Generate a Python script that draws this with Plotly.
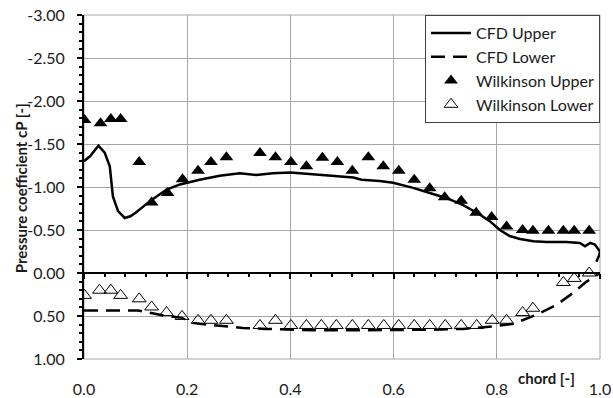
import plotly.graph_objects as go

# CFD pressure distribution, upper surface (x/c, cP)
cfd_upper_x = [0.0, 0.012, 0.028, 0.040, 0.050, 0.056, 0.066, 0.079, 0.090, 0.100, 0.131, 0.160,
               0.186, 0.224, 0.263, 0.302, 0.334, 0.366, 0.400, 0.431, 0.463, 0.496, 0.522,
               0.538, 0.573, 0.599, 0.638, 0.670, 0.703, 0.735, 0.767, 0.787, 0.806, 0.825,
               0.845, 0.871, 0.897, 0.935, 0.961, 0.971, 0.981, 0.990, 1.000, 0.998, 0.993]
cfd_upper_cp = [-1.30, -1.36, -1.48, -1.40, -1.24, -0.89, -0.72, -0.64, -0.66, -0.70, -0.85, -0.97,
                -1.03, -1.085, -1.13, -1.16, -1.14, -1.16, -1.17, -1.155, -1.14, -1.12, -1.11,
                -1.085, -1.07, -1.05, -0.99, -0.93, -0.87, -0.79, -0.68, -0.60, -0.50, -0.43,
                -0.395, -0.37, -0.36, -0.36, -0.35, -0.31, -0.35, -0.33, -0.25, -0.20, -0.13]

# CFD pressure distribution, lower surface
cfd_lower_x = [0.0, 0.105, 0.130, 0.160, 0.189, 0.211, 0.224, 0.276, 0.308, 0.354, 0.399, 0.444,
               0.483, 0.528, 0.573, 0.670, 0.735, 0.793, 0.832, 0.877, 0.916, 0.948, 0.974,
               0.994, 1.000]
cfd_lower_cp = [0.435, 0.435, 0.465, 0.50, 0.52, 0.58, 0.59, 0.62, 0.64, 0.65, 0.66, 0.667,
                0.667, 0.667, 0.667, 0.66, 0.65, 0.62, 0.59, 0.485, 0.37, 0.23, 0.10,
                0.02, 0.0]

# Wilkinson measurements
wilk_upper_x = [0.001, 0.032, 0.052, 0.071, 0.107, 0.131, 0.162, 0.191, 0.221, 0.246, 0.276,
                0.341, 0.371, 0.401, 0.431, 0.462, 0.491, 0.520, 0.551, 0.580, 0.610, 0.640,
                0.670, 0.699, 0.731, 0.760, 0.790, 0.819, 0.850, 0.870, 0.900, 0.929, 0.950,
                0.979]
wilk_upper_cp = [-1.78, -1.74, -1.79, -1.79, -1.29, -0.82, -0.93, -1.09, -1.19, -1.29, -1.345,
                 -1.395, -1.345, -1.29, -1.24, -1.34, -1.29, -1.19, -1.345, -1.24, -1.19, -1.085,
                 -0.985, -0.88, -0.84, -0.70, -0.65, -0.54, -0.50, -0.49, -0.49, -0.49, -0.49,
                 -0.49]

wilk_lower_x = [0.001, 0.030, 0.052, 0.071, 0.107, 0.131, 0.160, 0.190, 0.221, 0.246, 0.276,
                0.341, 0.371, 0.401, 0.431, 0.460, 0.489, 0.520, 0.551, 0.581, 0.610, 0.640,
                0.670, 0.700, 0.731, 0.761, 0.791, 0.819, 0.850, 0.870, 0.929, 0.950, 0.979]
wilk_lower_cp = [0.26, 0.20, 0.20, 0.26, 0.30, 0.395, 0.46, 0.505, 0.55, 0.55, 0.55,
                 0.61, 0.55, 0.61, 0.61, 0.61, 0.61, 0.61, 0.61, 0.61, 0.61, 0.61,
                 0.61, 0.61, 0.61, 0.61, 0.55, 0.55, 0.46, 0.41, 0.11, 0.063, 0.0]

y_tickvals = [-3.0, -2.5, -2.0, -1.5, -1.0, -0.5, 0.0, 0.5, 1.0]
y_ticktext = ["-3.00", "-2.50", "-2.00", "-1.50", "-1.00", "-0.50", "0.00", "0.50", "1.00"]
x_tickvals = [0.0, 0.2, 0.4, 0.6, 0.8, 1.0]
x_ticktext = ["0.0", "0.2", "0.4", "0.6", "0.8", "1.0"]

FONT = "Lato, 'Open Sans', sans-serif"
TXT = "#1a1a1a"
GRID = "#a6a6a6"
FS = 16

fig = go.Figure()
fig.add_trace(go.Scatter(x=cfd_upper_x, y=cfd_upper_cp, mode="lines", name="CFD Upper",
                         line=dict(color="black", width=2.5), legendgroup="a"))
fig.add_trace(go.Scatter(x=cfd_lower_x, y=cfd_lower_cp, mode="lines", name="CFD Lower",
                         line=dict(color="black", width=2.5, dash="14px,8px"), legendgroup="b"))
fig.add_trace(go.Scatter(x=wilk_upper_x, y=wilk_upper_cp, mode="markers", name="Wilkinson Upper",
                         marker=dict(symbol="triangle-up", size=12, color="black",
                                     line=dict(width=0)), legendgroup="c"))
fig.add_trace(go.Scatter(x=wilk_lower_x, y=wilk_lower_cp, mode="markers", name="Wilkinson Lower",
                         marker=dict(symbol="triangle-up-open", size=12, color="black",
                                     line=dict(width=1)), legendgroup="d"))
# empty trace that carries the chord axis drawn through cP = 0
fig.add_trace(go.Scatter(x=[0, 1], y=[0, 0], xaxis="x2", mode="lines",
                         line=dict(width=0), showlegend=False, hoverinfo="skip"))

fig.update_layout(
    width=613, height=398,
    margin=dict(l=84, r=13, t=15, b=39),
    paper_bgcolor="white", plot_bgcolor="white",
    font=dict(family=FONT, size=FS, color=TXT),
    xaxis=dict(range=[0, 1], tickvals=x_tickvals, ticktext=x_ticktext, automargin=False,
               showgrid=True, gridcolor=GRID, gridwidth=1, zeroline=False,
               showline=False, ticks="outside", ticklen=16, tickcolor="rgba(0,0,0,0)"),
    xaxis2=dict(range=[0, 1], overlaying="x", anchor="free", position=0.25, automargin=False,
                showline=True, linecolor="black", linewidth=2,
                tickvals=x_tickvals, showticklabels=False, showgrid=False, zeroline=False,
                ticks="outside", ticklen=5, tickwidth=1.5, tickcolor="black",
                minor=dict(dtick=0.04, tick0=0, ticks="outside", ticklen=3, tickwidth=1.5,
                           tickcolor="black", showgrid=False)),
    yaxis=dict(range=[1, -3], tickvals=y_tickvals, ticktext=y_ticktext, automargin=False,
               showgrid=True, gridcolor=GRID, gridwidth=1, zeroline=False,
               showline=True, linecolor="black", linewidth=2,
               ticks="outside", ticklen=5, tickwidth=1.5, tickcolor="black",
               ticklabelstandoff=9,
               minor=dict(dtick=0.1, tick0=0, ticks="outside", ticklen=3, tickwidth=1.5,
                          tickcolor="black", showgrid=False)),
    legend=dict(x=1.0, y=1.0, xanchor="right", yanchor="top",
                bgcolor="white", bordercolor="#404040", borderwidth=1,
                font=dict(family=FONT, size=FS, color=TXT),
                tracegroupgap=0, itemwidth=40),
    shapes=[dict(type="rect", xref="paper", yref="paper", x0=0, y0=0, x1=1, y1=1,
                 line=dict(color=GRID, width=1), layer="below")],
    annotations=[
        dict(text="<b>Pressure coefficient cP [-]</b>", xref="paper", yref="paper",
             x=-0.123, y=0.495, xanchor="center", yanchor="middle", textangle=-90,
             showarrow=False, font=dict(family=FONT, size=FS - 1, color=TXT)),
        dict(text="<b>chord [-]</b>", xref="paper", yref="paper",
             x=0.896, y=-0.055, xanchor="center", yanchor="middle", showarrow=False,
             font=dict(family=FONT, size=FS - 1, color=TXT)),
    ],
)

fig.write_html("out.html")
